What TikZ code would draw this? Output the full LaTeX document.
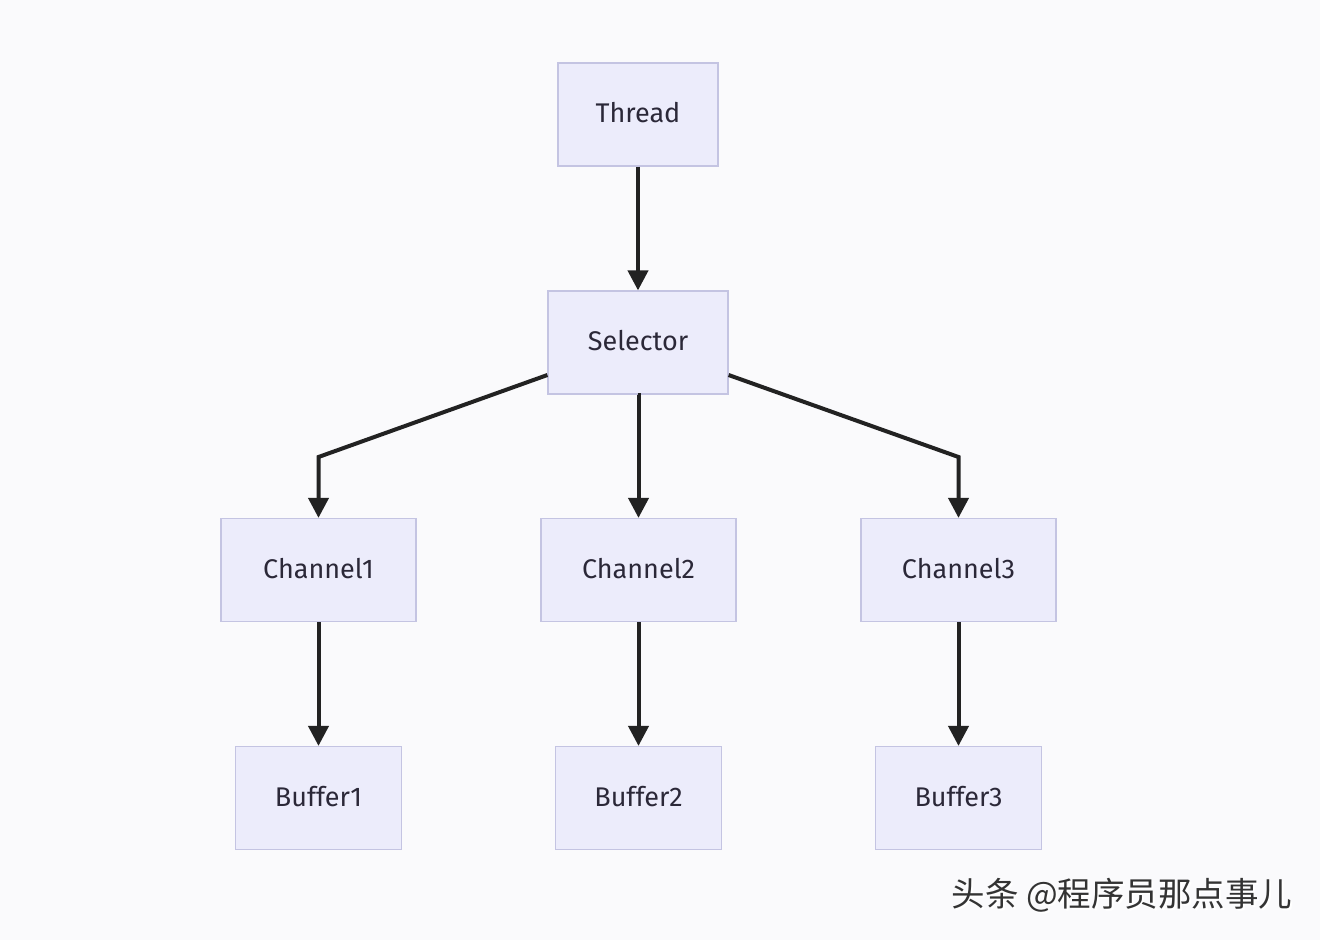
\documentclass[tikz,border=0pt]{standalone}
\usepackage{fontspec}
\setmainfont{Fira Sans}
\newfontfamily\cjk{Noto Sans CJK SC}
\usetikzlibrary{arrows.meta}
\definecolor{bgcol}{HTML}{FAFAFC}
\definecolor{boxfill}{HTML}{ECECFB}
\definecolor{boxline}{HTML}{C4C4E2}
\definecolor{txtcol}{HTML}{2B2838}
\definecolor{linecol}{HTML}{222222}
\tikzset{
  box/.style={draw=boxline, line width=1.2pt, fill=boxfill, inner sep=0pt,
    minimum height=103pt, text=txtcol, font=\fontsize{27}{30}\selectfont},
  link/.style={draw=linecol, line width=4pt,
    -{Triangle[length=20pt, width=20pt]}},
  wmtext/.style={font=\cjk\fontsize{33.5}{38}\selectfont, anchor=east},
}
\newcommand\lbl[1]{\raisebox{4pt}{#1}}
\begin{document}
\begin{tikzpicture}[x=1pt, y=-1pt]
  \fill[bgcol] (0,0) rectangle (1320,940);
  \useasboundingbox (0,0) rectangle (1320,940);

  \node[box, minimum width=160pt] (thread)   at (638,114.5) {\lbl{Thread}};
  \node[box, minimum width=180pt] (selector) at (638,342.5) {\lbl{Selector}};
  \node[box, minimum width=195pt] (ch1) at (318.5,570) {\lbl{Channel1}};
  \node[box, minimum width=195pt] (ch2) at (638.5,570) {\lbl{Channel2}};
  \node[box, minimum width=195pt] (ch3) at (958.5,570) {\lbl{Channel3}};
  \node[box, minimum width=166pt] (buf1) at (318.5,798) {\lbl{Buffer1}};
  \node[box, minimum width=166pt] (buf2) at (638.5,798) {\lbl{Buffer2}};
  \node[box, minimum width=166pt] (buf3) at (958.5,798) {\lbl{Buffer3}};

  \coordinate (bendL) at (318.5,457);
  \coordinate (bendR) at (958.5,457);

  \draw[link] (thread.south) -- (selector.north);
  \draw[link] (selector.west |- 0,375) -- (bendL) -- (ch1.north);
  \draw[link] (selector.south) -- (selector.south -| ch2.north) -- (ch2.north);
  \draw[link] (selector.east |- 0,375) -- (bendR) -- (ch3.north);
  \draw[link] (ch1.south) -- (buf1.north);
  \draw[link] (ch2.south) -- (buf2.north);
  \draw[link] (ch3.south) -- (buf3.north);

  \node[wmtext, text=white] at (1298,897) {头条 @程序员那点事儿};
  \node[wmtext, text=black!80] (wm) at (1296,895) {头条 @程序员那点事儿};
\end{tikzpicture}
\end{document}
